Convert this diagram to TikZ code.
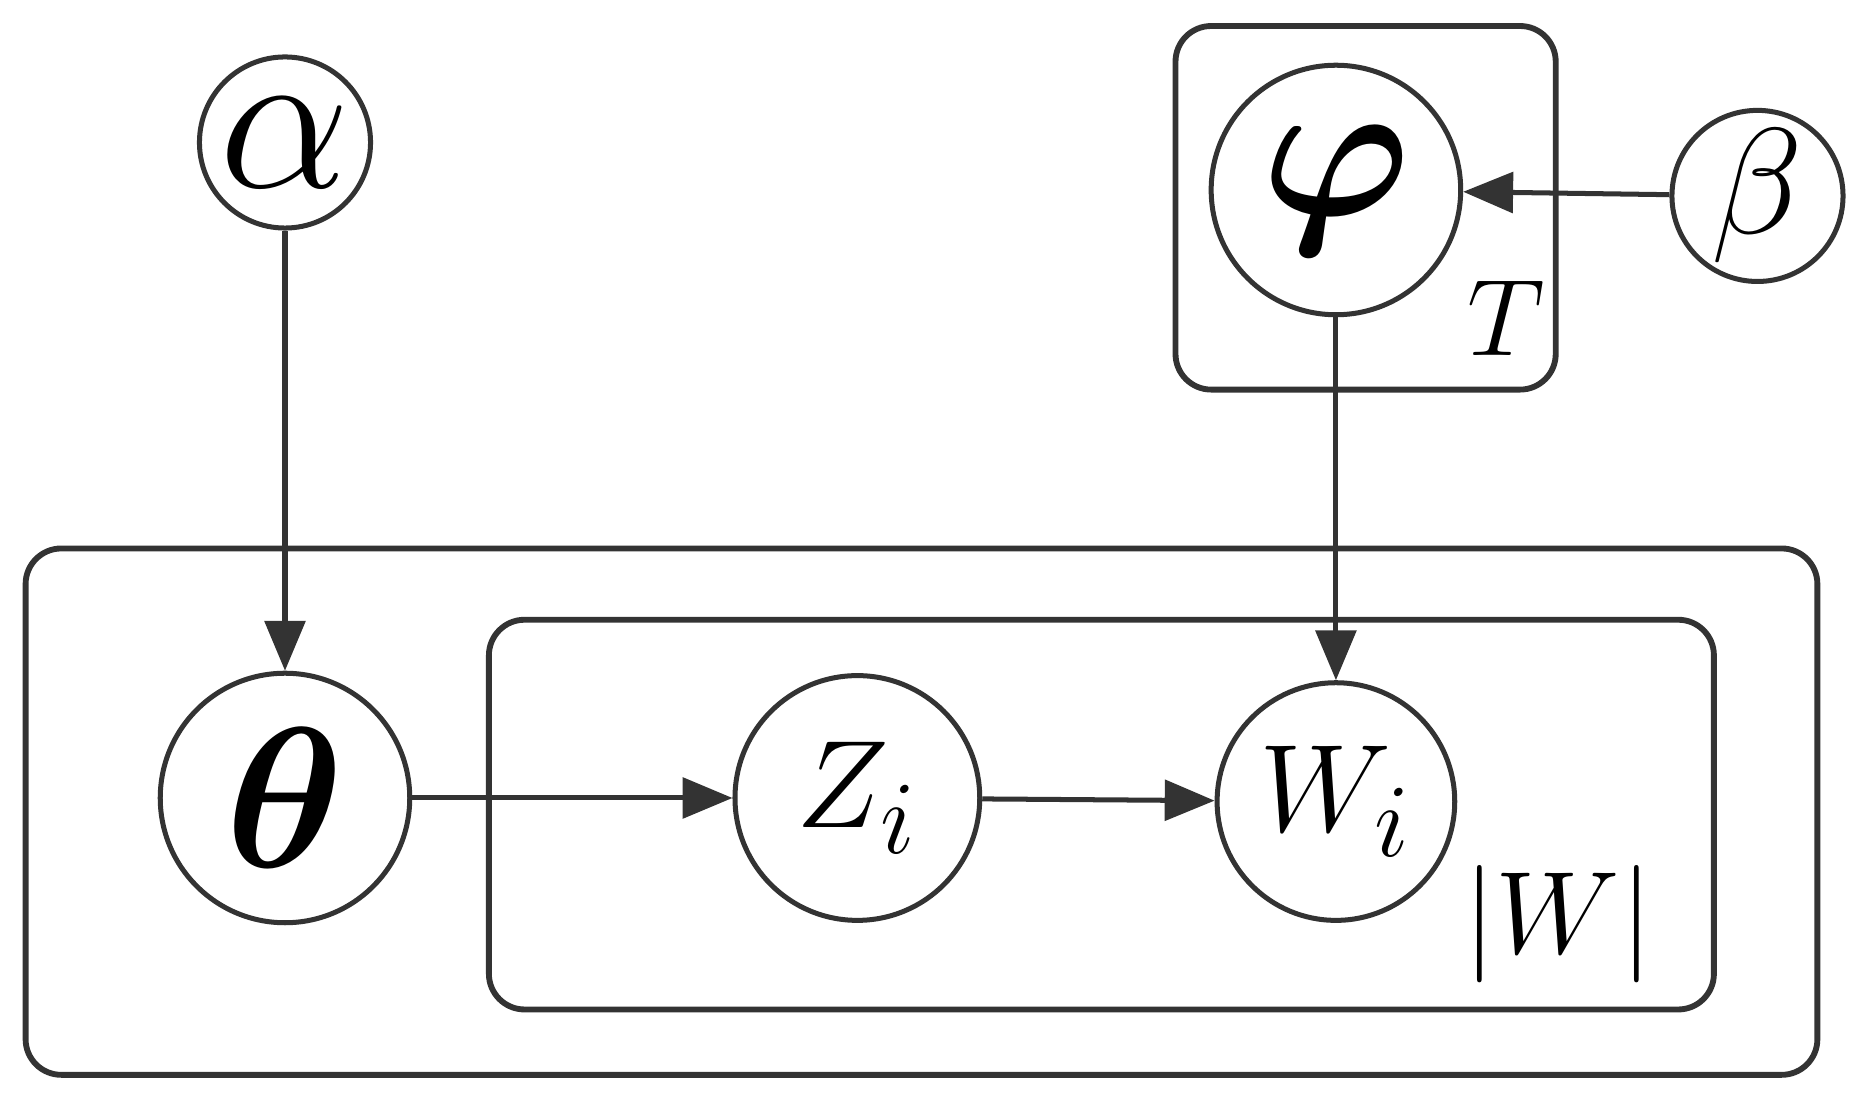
\documentclass[tikz,border=0pt]{standalone}
\usepackage{amsmath,bm,graphicx}
\usetikzlibrary{arrows.meta}
\newcommand{\bigtxt}[2]{\scalebox{#1}{\Huge #2}}
\begin{document}
\begin{tikzpicture}[x=0.01cm,y=-0.01cm,
  var/.style={circle,draw=black!80,line width=1.2pt,inner sep=0pt},
  plate/.style={draw=black!80,line width=1.4pt,rounded corners=0.3cm},
  arr/.style={draw=black!80,line width=1.2pt,-{Triangle[length=0.42cm,width=0.34cm]}}]
\useasboundingbox (0,0) rectangle (1568,931);
\node[plate,minimum width=15.08cm,minimum height=4.43cm] (outer) at (776,683.5) {};
\node[plate,minimum width=10.31cm,minimum height=3.28cm] (inner) at (927.5,686) {};
\node[plate,minimum width=3.2cm,minimum height=3.06cm] (tbox) at (1150,175) {};
\node[var,minimum size=1.44cm] (a) at (240,120) {\bigtxt{2}{$\alpha$}};
\node[var,minimum size=2.1cm] (phi) at (1125,160) {\bigtxt{1.93}{$\bm{\varphi}$}};
\node[var,minimum size=1.44cm] (b) at (1480,165) {\bigtxt{1.45}{$\beta$}};
\node[var,minimum size=2.1cm] (th) at (240,672) {\bigtxt{1.93}{$\bm{\theta}$}};
\node[var,minimum size=2.06cm] (z) at (722,672) {\bigtxt{1.2}{$Z_{i}$}};
\node[var,minimum size=2.0cm] (w) at (1125,675) {\bigtxt{1.2}{$W_{i}$}};
\node (tl) at (1268,268) {\bigtxt{1.05}{$T$}};
\node (wl) at (1312,778) {\bigtxt{1.13}{$\lvert W\rvert$}};
\draw[arr] (a) -- (th);
\draw[arr] (b) -- (phi);
\draw[arr] (phi) -- (w);
\draw[arr] (th) -- (z);
\draw[arr] (z) -- (w);
\end{tikzpicture}
\end{document}
